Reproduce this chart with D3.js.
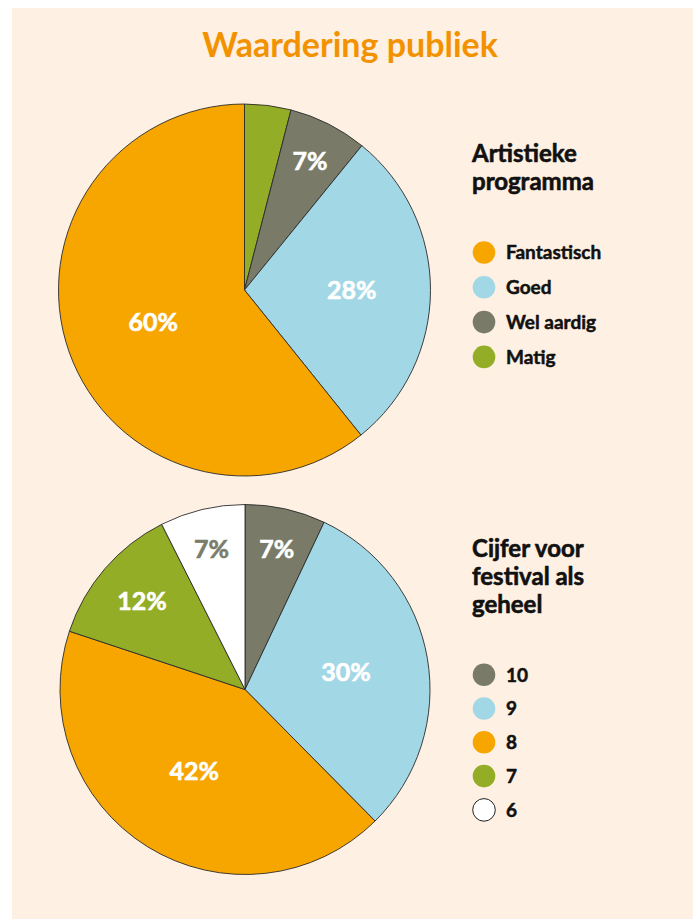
<!DOCTYPE html>
<html lang="nl">
<head>
    <meta charset="UTF-8">
    <title>Waardering publiek</title>
    <style>
        body {
            margin: 0;
            background-color: #ffffff;
            font-family: Lato, 'Open Sans', sans-serif;
        }
        svg text {
            font-family: Lato, 'Open Sans', sans-serif;
            font-weight: 700;
        }
    </style>
</head>
<body>
    <svg id="chart"></svg>

    <script src="https://d3js.org/d3.v7.min.js"></script>
    <script>
        // Artistieke programma (legend order)
        const artCategories = ['Fantastisch', 'Goed', 'Wel aardig', 'Matig'];
        const artValues = [60.4, 28.2, 6.8, 4.0];
        const artColors = ['#f7a600', '#a2d7e5', '#797b68', '#94ad26'];

        // Cijfer voor festival als geheel (legend order)
        const cijferCategories = ['10', '9', '8', '7', '6'];
        const cijferValues = [7.0, 30.4, 42.3, 12.4, 7.4];
        const cijferColors = ['#797b68', '#a2d7e5', '#f7a600', '#94ad26', '#ffffff'];

        const width = 695;
        const height = 919;

        const svg = d3.select('#chart')
            .attr('width', width)
            .attr('height', height);

        // panel background
        svg.append('rect')
            .attr('x', 12)
            .attr('y', 8)
            .attr('width', 681)
            .attr('height', height - 8)
            .attr('fill', '#fef0e2');

        svg.append('text')
            .attr('x', 350)
            .attr('y', 57)
            .attr('text-anchor', 'middle')
            .style('font-size', '34px')
            .attr('fill', '#f39200')
            .text('Waardering publiek');

        // heavier look for the black-weight texts
        function heavy(sel, color, w) {
            sel.attr('fill', color)
                .attr('stroke', color)
                .attr('stroke-width', w)
                .attr('stroke-linejoin', 'round');
        }

        function drawPie(opts) {
            const items = opts.categories.map((c, i) => ({
                name: c, value: opts.values[i], color: opts.colors[i]
            }));
            const pieOrder = opts.reverse ? items.slice().reverse() : items;
            const total = d3.sum(items, d => d.value);

            const pie = d3.pie().sort(null).value(d => d.value);
            const arc = d3.arc().innerRadius(0).outerRadius(opts.r);

            const g = svg.append('g')
                .attr('transform', `translate(${opts.cx}, ${opts.cy})`);

            const arcs = pie(pieOrder);

            g.selectAll('path')
                .data(arcs)
                .enter()
                .append('path')
                .attr('d', arc)
                .attr('fill', d => d.data.color)
                .attr('stroke', '#2b2b2b')
                .attr('stroke-width', 0.9);

            // labels: smaller slices sit further out
            g.selectAll('.slice-label')
                .data(arcs.filter(d => d.data.value / total >= 0.05))
                .enter()
                .append('text')
                .attr('class', 'slice-label')
                .attr('transform', d => {
                    const p = d.data.value / total;
                    const f = Math.max(0.52, Math.min(0.78, 0.86 - p));
                    const la = d3.arc().innerRadius(opts.r * f).outerRadius(opts.r * f);
                    const [x, y] = la.centroid(d);
                    return `translate(${x}, ${y})`;
                })
                .attr('text-anchor', 'middle')
                .attr('dy', '0.36em')
                .style('font-size', '25px')
                .attr('stroke-width', 0.6)
                .attr('fill', d => d.data.color === '#ffffff' ? '#7b7d6b' : '#ffffff')
                .attr('stroke', d => d.data.color === '#ffffff' ? '#7b7d6b' : '#ffffff')
                .text(d => Math.round(d.data.value) + '%');

            // legend title
            const title = svg.append('text')
                .attr('x', opts.lx)
                .attr('y', opts.titleY)
                .style('font-size', '24px');
            heavy(title, '#111', 0.6);
            opts.title.forEach((line, i) => {
                title.append('tspan')
                    .attr('x', opts.lx)
                    .attr('dy', i === 0 ? 0 : 28)
                    .text(line);
            });

            const lg = svg.selectAll(null)
                .data(items)
                .enter()
                .append('g')
                .attr('transform', (d, i) => `translate(${opts.lx + 12}, ${opts.ly + i * opts.lstep})`);

            lg.append('circle')
                .attr('r', 11.3)
                .attr('fill', d => d.color)
                .attr('stroke', d => d.color === '#ffffff' ? '#222' : 'none')
                .attr('stroke-width', 1);

            lg.append('text')
                .attr('x', 22)
                .attr('dy', '0.36em')
                .style('font-size', '19px')
                .call(heavy, '#111', 0.5)
                .text(d => d.name);
        }

        drawPie({
            categories: artCategories, values: artValues, colors: artColors,
            reverse: true, cx: 244.5, cy: 290, r: 186,
            title: ['Artistieke', 'programma'], titleY: 162,
            lx: 472, ly: 252.5, lstep: 34.8
        });

        drawPie({
            categories: cijferCategories, values: cijferValues, colors: cijferColors,
            reverse: false, cx: 245, cy: 689.5, r: 185,
            title: ['Cijfer voor', 'festival als', 'geheel'], titleY: 557,
            lx: 472, ly: 674.7, lstep: 33.8
        });
    </script>
</body>
</html>
